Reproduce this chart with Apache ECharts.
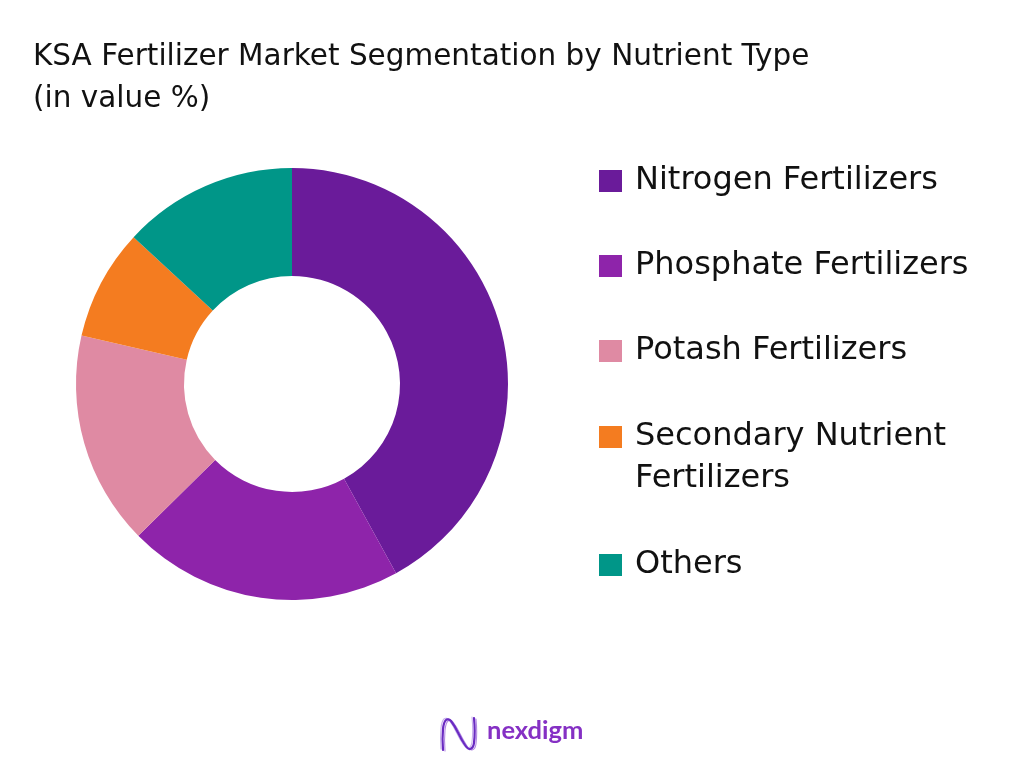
<!DOCTYPE html>
<html>
<head>
<meta charset="utf-8">
<script src="https://cdn.jsdelivr.net/npm/echarts@6/dist/echarts.min.js"></script>
<style>
html,body{margin:0;padding:0;background:#fff;}
#chart{width:1024px;height:768px;}
</style>
</head>
<body>
<div id="chart"></div>
<script>
const categories = ['Nitrogen Fertilizers', 'Phosphate Fertilizers', 'Potash Fertilizers', 'Secondary Nutrient Fertilizers', 'Others'];
const values = [42.0, 20.6, 16.0, 8.3, 13.1];
const colors = ['#6A1B9A', '#8E24AA', '#DF8AA3', '#F47C20', '#009688'];
const titleLines = ['KSA Fertilizer Market Segmentation by Nutrient Type', '(in value %)'];
const brand = 'nexdigm';

const FONT = 'DejaVu Sans';
const chart = echarts.init(document.getElementById('chart'), null, {renderer: 'canvas'});

const legendText = {
  fontFamily: FONT, fontSize: 32, color: '#111', lineHeight: 42, padding: [0, 0, 0, 8]
};

function legendBlock(names, top, formatter) {
  const o = {
    orient: 'vertical', left: 599, top: top, padding: 0,
    itemWidth: 23, itemHeight: 22, itemGap: 43, icon: 'rect',
    textStyle: legendText,
    data: names
  };
  if (formatter) o.formatter = formatter;
  return o;
}

function wave(dx, dy, color, w) {
  const pts = [[443, 750], [443, 729], [446, 720], [451, 721], [465, 745], [470, 749], [474, 743], [474, 718]];
  return {
    type: 'polyline', silent: true,
    shape: {points: pts.map(function (p) { return [p[0] + dx, p[1] + dy]; }), smooth: 0.45},
    style: {fill: null, stroke: color, lineWidth: w, lineCap: 'round'}
  };
}

const option = {
  backgroundColor: '#ffffff',
  animation: false,
  title: {
    text: titleLines.join('\n'),
    left: 28, top: 31,
    textStyle: {fontFamily: FONT, fontSize: 29.5, fontWeight: 'normal', color: '#111', lineHeight: 42}
  },
  legend: [
    legendBlock(categories.slice(0, 3), 160),
    legendBlock([categories[3]], 374, function () { return '\nSecondary Nutrient\nFertilizers'; }),
    legendBlock([categories[4]], 544)
  ],
  series: [{
    type: 'pie',
    center: [292, 384],
    radius: [108, 216],
    startAngle: 90,
    clockwise: true,
    label: {show: false},
    labelLine: {show: false},
    itemStyle: {borderWidth: 0},
    emphasis: {disabled: true},
    data: categories.map(function (c, i) {
      return {name: c, value: values[i], itemStyle: {color: colors[i]}};
    })
  }],
  graphic: [
    wave(-2, -1, '#C9B0EE', 1.1),
    wave(2, 1, '#B48BE4', 1.1),
    wave(0, 0, '#6A2BC2', 2.2),
    {
      type: 'text', left: 487, top: 718, silent: true,
      style: {
        text: brand, fontFamily: 'Lato', fontSize: 25.5, fontWeight: 'bold',
        fill: '#8530C4'
      }
    }
  ]
};
chart.setOption(option);
</script>
</body>
</html>
